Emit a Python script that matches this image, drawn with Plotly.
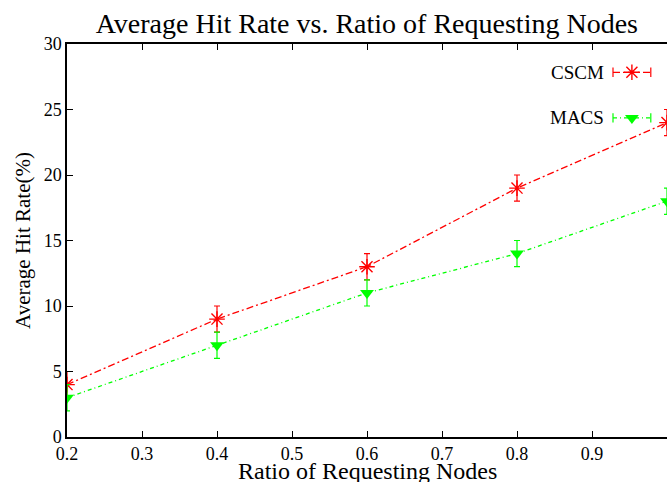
import plotly.graph_objects as go

ratio = [0.2, 0.4, 0.6, 0.8, 1.0]
cscm_hit = [4, 9, 13, 19, 24]
cscm_err = [1, 1, 1, 1, 1]
macs_hit = [3, 7, 11, 14, 18]
macs_err = [1, 1, 1, 1, 1]

x_ticks = [0.2, 0.3, 0.4, 0.5, 0.6, 0.7, 0.8, 0.9]
y_ticks = [0, 5, 10, 15, 20, 25, 30]

RED = "#ff0000"
GREEN = "#00ff00"
SERIF = "Liberation Serif"

fig = go.Figure()

fig.add_trace(go.Scatter(
    x=ratio, y=cscm_hit, mode="lines+markers", name="CSCM",
    line=dict(color=RED, width=1.3, dash="7px,3px,2px,3px"),
    marker=dict(symbol="asterisk-open", size=13, color=RED,
                line=dict(color=RED, width=1.4)),
    error_y=dict(type="data", array=cscm_err, visible=True,
                 color=RED, thickness=1.2, width=3),
    showlegend=False,
))
fig.add_trace(go.Scatter(
    x=ratio, y=macs_hit, mode="lines+markers", name="MACS",
    line=dict(color=GREEN, width=1.3, dash="4px,3px,1px,3px"),
    marker=dict(symbol="triangle-down", size=12, color=GREEN,
                line=dict(width=0)),
    error_y=dict(type="data", array=macs_err, visible=True,
                 color=GREEN, thickness=1.2, width=3),
    showlegend=False,
))

# Key samples drawn on an overlay axis spanning the plot area (0..1 each way)
key_items = [("CSCM", RED, "7px,3px,2px,3px", "asterisk-open", 13, 0.928),
             ("MACS", GREEN, "4px,3px,1px,3px", "triangle-down", 12, 0.812)]
x0, x1 = 0.910, 0.973
for label, color, dash, sym, size, ky in key_items:
    fig.add_trace(go.Scatter(
        x=[x0, x1], y=[ky, ky], mode="lines", xaxis="x2", yaxis="y2",
        line=dict(color=color, width=1.3, dash=dash), showlegend=False,
        hoverinfo="skip"))
    for xe in (x0, x1):
        fig.add_trace(go.Scatter(
            x=[xe, xe], y=[ky - 0.012, ky + 0.012], mode="lines",
            xaxis="x2", yaxis="y2", line=dict(color=color, width=1.2),
            showlegend=False, hoverinfo="skip"))
    fig.add_trace(go.Scatter(
        x=[(x0 + x1) / 2], y=[ky], mode="markers", xaxis="x2", yaxis="y2",
        marker=dict(symbol=sym, size=size, color=color,
                    line=dict(color=color, width=1.4 if "open" in sym else 0)),
        showlegend=False, hoverinfo="skip"))
    fig.add_annotation(x=x0 - 0.011, y=ky, xref="x2", yref="y2", text=label,
                       showarrow=False, xanchor="right", yanchor="middle",
                       font=dict(family=SERIF, size=19, color="black"))

# x-axis title placed just under the tick labels, near the bottom edge
fig.add_annotation(x=0.5, y=-0.05, xref="paper", yref="paper",
                   text="Ratio of Requesting Nodes", showarrow=False,
                   xanchor="center", yanchor="top", borderpad=0,
                   font=dict(family=SERIF, size=24, color="black"))

fig.update_layout(
    width=667, height=482,
    margin=dict(l=67, r=0, t=44, b=45),
    paper_bgcolor="white", plot_bgcolor="white",
    font=dict(family=SERIF, color="black"),
    title=dict(text="Average Hit Rate vs. Ratio of Requesting Nodes",
               x=0.55, xanchor="center", y=0.952, yanchor="middle",
               font=dict(family=SERIF, size=28, color="black")),
    xaxis=dict(range=[0.2, 1.0], tickvals=x_ticks,
               ticktext=[f"{v:.1f}" for v in x_ticks],
               ticks="inside", ticklen=6, tickcolor="black", tickwidth=1,
               showline=True, linecolor="black", linewidth=1.5,
               mirror="ticks", showgrid=False, zeroline=False,
               tickfont=dict(family=SERIF, size=18)),
    yaxis=dict(range=[0, 30], tickvals=y_ticks,
               ticks="inside", ticklen=6, tickcolor="black", tickwidth=1,
               showline=True, linecolor="black", linewidth=1.5,
               showgrid=False, zeroline=False,
               tickfont=dict(family=SERIF, size=18),
               title=dict(text="Average Hit Rate(%)", standoff=7,
                          font=dict(family=SERIF, size=21))),
    xaxis2=dict(overlaying="x", range=[0, 1], visible=False),
    yaxis2=dict(overlaying="y", range=[0, 1], visible=False),
)

fig.write_html("out.html")
